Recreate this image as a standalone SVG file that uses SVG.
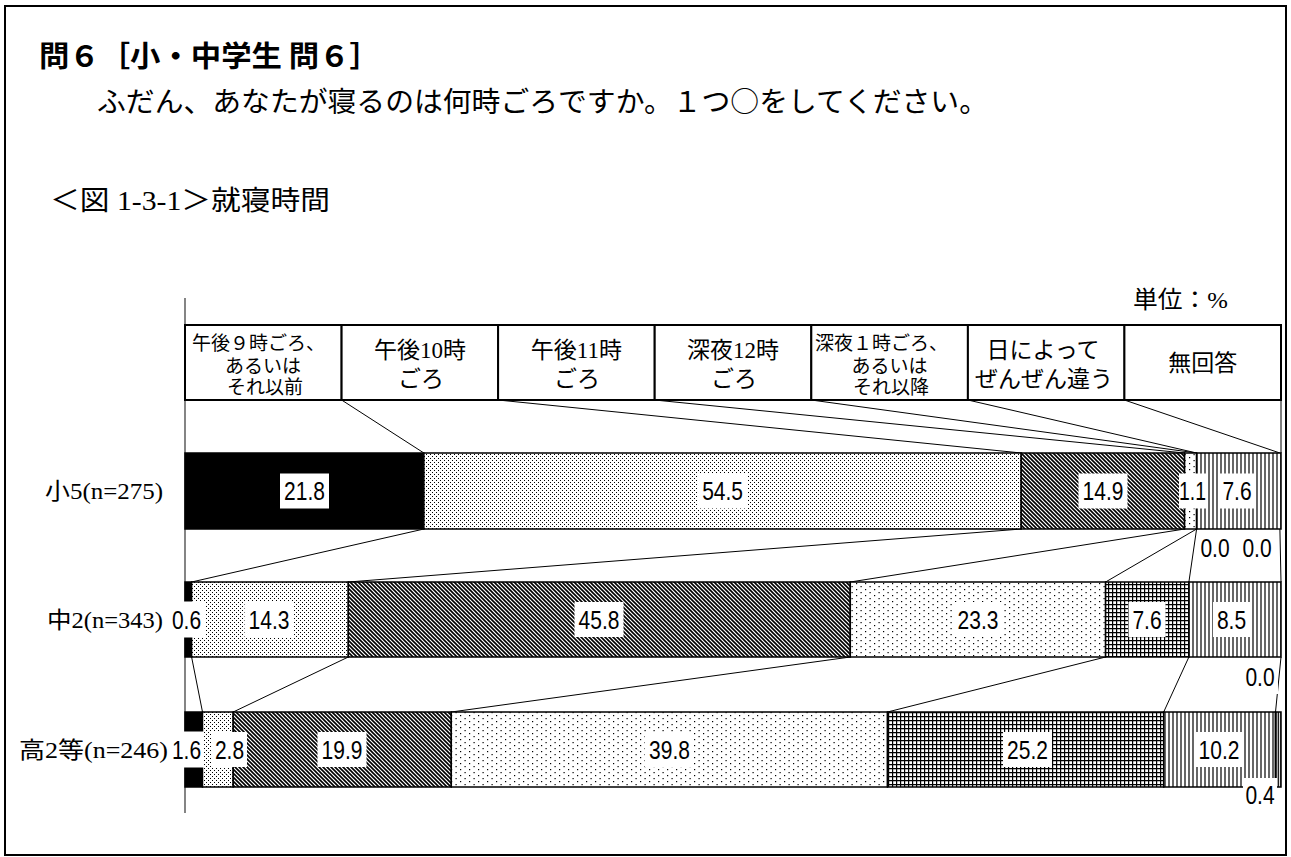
<svg xmlns="http://www.w3.org/2000/svg" width="1291" height="857" viewBox="0 0 1291 857">
<defs>
<pattern id="pDense" width="4" height="4" patternUnits="userSpaceOnUse"><rect width="4" height="4" fill="#fff"/><rect x="0" y="0" width="1" height="1" fill="#000"/><rect x="2" y="2" width="1" height="1" fill="#000"/></pattern>
<pattern id="pHatch" width="4" height="4" patternUnits="userSpaceOnUse"><rect width="4" height="4" fill="#fff"/><path d="M-1,-1 L5,5 M-1,3 L1,5 M3,-1 L5,1" stroke="#000" stroke-width="1.6"/></pattern>
<pattern id="pSparse" width="9" height="6" patternUnits="userSpaceOnUse"><rect width="9" height="6" fill="#fff"/><rect x="1" y="1" width="1.2" height="1.2" fill="#000"/><rect x="5.5" y="4" width="1.2" height="1.2" fill="#000"/></pattern>
<pattern id="pGrid" width="4" height="4" patternUnits="userSpaceOnUse"><rect width="4" height="4" fill="#fff"/><path d="M0.6,0 V4 M0,0.6 H4" stroke="#000" stroke-width="1.2"/></pattern>
<pattern id="pV" width="4" height="4" patternUnits="userSpaceOnUse"><rect width="4" height="4" fill="#fff"/><path d="M1,0 V4" stroke="#000" stroke-width="1.2"/></pattern>
<pattern id="pV2" width="2.5" height="4" patternUnits="userSpaceOnUse"><rect width="2.5" height="4" fill="#fff"/><path d="M1,0 V4" stroke="#000" stroke-width="1.4"/></pattern>
</defs>
<style>
.frame{fill:none;stroke:#000;stroke-width:2}
.goth{font-family:"Noto Sans CJK JP",sans-serif;fill:#000}
.min{font-family:"Liberation Serif","Noto Sans CJK JP",serif;fill:#000}
.lg{font-size:19px}
.lg2{font-size:23px}
.box{fill:#fff;stroke:#000;stroke-width:2}
.seg{stroke:#000;stroke-width:1.5}
.conn line{stroke:#000;stroke-width:1}
.axis{stroke:#333;stroke-width:1.2}
.lb{fill:#fff}
.num{font-family:"Liberation Sans",Arial,sans-serif;font-size:25px;fill:#000;text-anchor:middle}
.row{font-size:23px;text-anchor:end}
</style>
<rect class="frame" x="5" y="6" width="1281" height="849" fill="#fff"/>
<g id="title">
<text class="goth" x="39" y="66.5" font-size="29" font-weight="bold" textLength="341" lengthAdjust="spacingAndGlyphs">問６［小・中学生 問６］</text>
<text class="goth" x="97" y="112" font-size="28.5" textLength="891" lengthAdjust="spacingAndGlyphs">ふだん、あなたが寝るのは何時ごろですか。１つ○をしてください。</text>
<text class="min" x="50" y="210" font-size="27" textLength="280" lengthAdjust="spacingAndGlyphs">＜図 1-3-1＞就寝時間</text>
<text class="min" x="1133" y="308" font-size="24" textLength="95" lengthAdjust="spacingAndGlyphs">単位：%</text>
</g>
<line class="axis" x1="185" y1="298" x2="185" y2="813"/>
<g id="legend">
<rect class="box" x="185" y="325" width="156.6" height="75"/>
<rect class="box" x="341.6" y="325" width="156.6" height="75"/>
<rect class="box" x="498.1" y="325" width="156.6" height="75"/>
<rect class="box" x="654.7" y="325" width="156.6" height="75"/>
<rect class="box" x="811.3" y="325" width="156.6" height="75"/>
<rect class="box" x="967.9" y="325" width="156.6" height="75"/>
<rect class="box" x="1124.4" y="325" width="156.6" height="75"/>
<text class="min lg" x="192" y="350">午後９時ごろ、</text>
<text class="min lg" x="263" y="373" text-anchor="middle">あるいは</text>
<text class="min lg" x="265" y="394" text-anchor="middle">それ以前</text>
<text class="min lg2" x="420" y="358" text-anchor="middle">午後10時</text>
<text class="min lg2" x="421" y="387" text-anchor="middle">ごろ</text>
<text class="min lg2" x="576.4" y="358" text-anchor="middle">午後11時</text>
<text class="min lg2" x="577" y="387" text-anchor="middle">ごろ</text>
<text class="min lg2" x="733" y="358" text-anchor="middle">深夜12時</text>
<text class="min lg2" x="734" y="387" text-anchor="middle">ごろ</text>
<text class="min lg" x="815" y="350">深夜１時ごろ、</text>
<text class="min lg" x="889.6" y="373" text-anchor="middle">あるいは</text>
<text class="min lg" x="891" y="394" text-anchor="middle">それ以降</text>
<text class="min lg2" x="1043" y="358" text-anchor="middle">日によって</text>
<text class="min lg2" x="1044" y="387" text-anchor="middle">ぜんぜん違う</text>
<text class="min lg2" x="1202.7" y="371" text-anchor="middle">無回答</text>
</g>
<g id="connectors" class="conn">
<line x1="341.6" y1="400" x2="423.9" y2="453"/>
<line x1="498.1" y1="400" x2="1021.2" y2="453"/>
<line x1="654.7" y1="400" x2="1184.6" y2="453"/>
<line x1="811.3" y1="400" x2="1196.6" y2="453"/>
<line x1="967.9" y1="400" x2="1196.6" y2="453"/>
<line x1="1124.4" y1="400" x2="1279.9" y2="453"/>
<line x1="1281" y1="400" x2="1281" y2="453"/>
<line x1="423.9" y1="529" x2="191.6" y2="582"/>
<line x1="1021.2" y1="529" x2="348.3" y2="582"/>
<line x1="1184.6" y1="529" x2="850.3" y2="582"/>
<line x1="1196.6" y1="529" x2="1105.6" y2="582"/>
<line x1="1196.6" y1="529" x2="1188.9" y2="582"/>
<line x1="1279.9" y1="529" x2="1281" y2="582"/>
<line x1="191.6" y1="657" x2="202.5" y2="712"/>
<line x1="348.3" y1="657" x2="233.2" y2="712"/>
<line x1="850.3" y1="657" x2="451.3" y2="712"/>
<line x1="1105.6" y1="657" x2="887.5" y2="712"/>
<line x1="1188.9" y1="657" x2="1163.7" y2="712"/>
<line x1="1281" y1="657" x2="1275.5" y2="712"/>
</g>
<g id="bar-sho5">
<rect class="seg" x="185" y="453" width="238.9" height="76" fill="#000"/>
<rect class="seg" x="423.9" y="453" width="597.3" height="76" fill="url(#pDense)"/>
<rect class="seg" x="1021.2" y="453" width="163.4" height="76" fill="url(#pHatch)"/>
<rect class="seg" x="1184.6" y="453" width="12" height="76" fill="url(#pSparse)"/>
<rect class="seg" x="1196.6" y="453" width="84.4" height="76" fill="url(#pV)"/>
<text class="min row" x="163" y="499" textLength="118" lengthAdjust="spacingAndGlyphs">小5(n=275)</text>
<rect class="lb" x="280" y="473.5" width="49" height="35"/><text class="num" x="304.5" y="500" textLength="40.9" lengthAdjust="spacingAndGlyphs">21.8</text>
<rect class="lb" x="698" y="473.5" width="49" height="35"/><text class="num" x="722.6" y="500" textLength="40.9" lengthAdjust="spacingAndGlyphs">54.5</text>
<rect class="lb" x="1078.5" y="473.5" width="49" height="35"/><text class="num" x="1103" y="500" textLength="40.9" lengthAdjust="spacingAndGlyphs">14.9</text>
<rect class="lb" x="1179" y="473.5" width="27" height="35"/><text class="num" x="1192.5" y="500" textLength="27" lengthAdjust="spacingAndGlyphs">1.1</text>
<rect class="lb" x="1218" y="473.5" width="38" height="35"/><text class="num" x="1237" y="500" textLength="29.2" lengthAdjust="spacingAndGlyphs">7.6</text>
<rect class="lb" x="1198" y="531" width="34" height="34"/><text class="num" x="1215" y="557" textLength="29.2" lengthAdjust="spacingAndGlyphs">0.0</text>
<rect class="lb" x="1240" y="531" width="34" height="34"/><text class="num" x="1257" y="557" textLength="29.2" lengthAdjust="spacingAndGlyphs">0.0</text>
</g>
<g id="bar-chu2">
<rect class="seg" x="185" y="582" width="6.6" height="75" fill="#000"/>
<rect class="seg" x="191.6" y="582" width="156.7" height="75" fill="url(#pDense)"/>
<rect class="seg" x="348.3" y="582" width="502" height="75" fill="url(#pHatch)"/>
<rect class="seg" x="850.3" y="582" width="255.3" height="75" fill="url(#pSparse)"/>
<rect class="seg" x="1105.6" y="582" width="83.3" height="75" fill="url(#pGrid)"/>
<rect class="seg" x="1188.9" y="582" width="92.1" height="75" fill="url(#pV)"/>
<text class="min row" x="163" y="628" textLength="116" lengthAdjust="spacingAndGlyphs">中2(n=343)</text>
<rect class="lb" x="168" y="601.5" width="37" height="36"/><text class="num" x="186.5" y="628.5" textLength="29.2" lengthAdjust="spacingAndGlyphs">0.6</text>
<rect class="lb" x="244.5" y="602" width="49" height="35"/><text class="num" x="269" y="628.5" textLength="40.9" lengthAdjust="spacingAndGlyphs">14.3</text>
<rect class="lb" x="574.5" y="602" width="49" height="35"/><text class="num" x="599" y="628.5" textLength="40.9" lengthAdjust="spacingAndGlyphs">45.8</text>
<rect class="lb" x="953.5" y="602" width="49" height="35"/><text class="num" x="978" y="628.5" textLength="40.9" lengthAdjust="spacingAndGlyphs">23.3</text>
<rect class="lb" x="1128.5" y="602" width="37" height="35"/><text class="num" x="1147" y="628.5" textLength="29.2" lengthAdjust="spacingAndGlyphs">7.6</text>
<rect class="lb" x="1213" y="602" width="37" height="35"/><text class="num" x="1231.5" y="628.5" textLength="29.2" lengthAdjust="spacingAndGlyphs">8.5</text>
<rect class="lb" x="1243" y="660" width="35" height="34"/><text class="num" x="1260" y="686" textLength="29.2" lengthAdjust="spacingAndGlyphs">0.0</text>
</g>
<g id="bar-ko2">
<rect class="seg" x="185" y="712" width="17.5" height="75" fill="#000"/>
<rect class="seg" x="202.5" y="712" width="30.7" height="75" fill="url(#pDense)"/>
<rect class="seg" x="233.2" y="712" width="218.1" height="75" fill="url(#pHatch)"/>
<rect class="seg" x="451.3" y="712" width="436.2" height="75" fill="url(#pSparse)"/>
<rect class="seg" x="887.5" y="712" width="276.2" height="75" fill="url(#pGrid)"/>
<rect class="seg" x="1163.7" y="712" width="111.8" height="75" fill="url(#pV)"/>
<rect class="seg" x="1275.5" y="712" width="5.5" height="75" fill="url(#pV2)"/>
<text class="min row" x="168" y="758" textLength="149" lengthAdjust="spacingAndGlyphs">高2等(n=246)</text>
<rect class="lb" x="168" y="731.5" width="36" height="36"/><text class="num" x="186.5" y="758.5" textLength="29.2" lengthAdjust="spacingAndGlyphs">1.6</text>
<rect class="lb" x="212" y="732" width="35" height="35"/><text class="num" x="229.5" y="758.5" textLength="29.2" lengthAdjust="spacingAndGlyphs">2.8</text>
<rect class="lb" x="317.5" y="732" width="49" height="35"/><text class="num" x="342" y="758.5" textLength="40.9" lengthAdjust="spacingAndGlyphs">19.9</text>
<rect class="lb" x="645" y="732" width="49" height="35"/><text class="num" x="669.5" y="758.5" textLength="40.9" lengthAdjust="spacingAndGlyphs">39.8</text>
<rect class="lb" x="1003" y="732" width="49" height="35"/><text class="num" x="1027.5" y="758.5" textLength="40.9" lengthAdjust="spacingAndGlyphs">25.2</text>
<rect class="lb" x="1195" y="732" width="48" height="35"/><text class="num" x="1219" y="758.5" textLength="40.9" lengthAdjust="spacingAndGlyphs">10.2</text>
<rect class="lb" x="1243" y="778" width="34" height="34"/><text class="num" x="1260" y="804" textLength="29.2" lengthAdjust="spacingAndGlyphs">0.4</text>
</g>
</svg>
